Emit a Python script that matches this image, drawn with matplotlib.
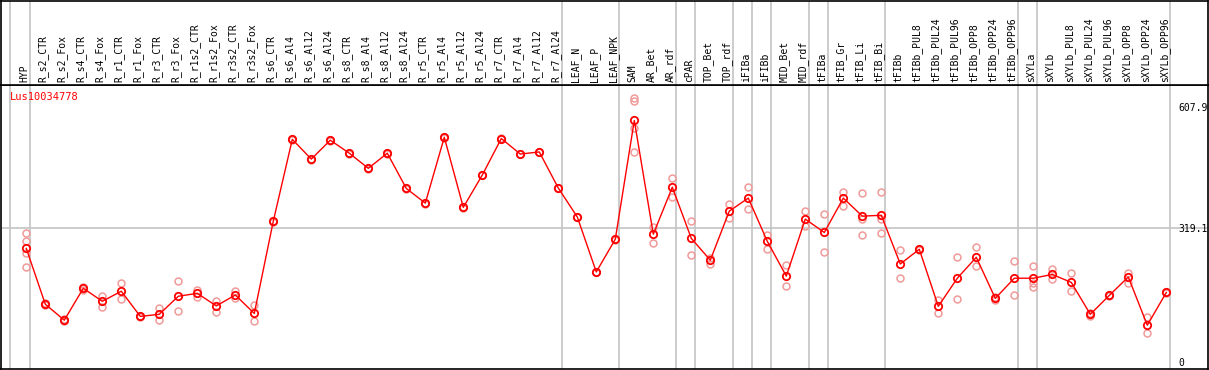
import matplotlib
matplotlib.use("Agg")
import matplotlib.pyplot as plt

samples = ["HYP", "R_s2_CTR", "R_s2_Fox", "R_s4_CTR", "R_s4_Fox", "R_r1_CTR", "R_r1_Fox",
           "R_r3_CTR", "R_r3_Fox", "R_r1s2_CTR", "R_r1s2_Fox", "R_r3s2_CTR", "R_r3s2_Fox",
           "R_s6_CTR", "R_s6_Al4", "R_s6_Al12", "R_s6_Al24", "R_s8_CTR", "R_s8_Al4",
           "R_s8_Al12", "R_s8_Al24", "R_r5_CTR", "R_r5_Al4", "R_r5_Al12", "R_r5_Al24",
           "R_r7_CTR", "R_r7_Al4", "R_r7_Al12", "R_r7_Al24", "LEAF_N", "LEAF_P", "LEAF_NPK",
           "SAM", "AR_Bet", "AR_rdf", "cPAR", "TOP_Bet", "TOP_rdf", "iFIBa", "iFIBb",
           "MID_Bet", "MID_rdf", "tFIBa", "tFIB_Gr", "tFIB_Li", "tFIB_Bi", "tFIBb",
           "tFIBb_PUL8", "tFIBb_PUL24", "tFIBb_PUL96", "tFIBb_OPP8", "tFIBb_OPP24",
           "tFIBb_OPP96", "sXYLa", "sXYLb", "sXYLb_PUL8", "sXYLb_PUL24", "sXYLb_PUL96",
           "sXYLb_OPP8", "sXYLb_OPP24", "sXYLb_OPP96"]

means = [270, 137, 99, 175, 144, 168, 108, 113, 156, 163, 133, 159, 115,
         335, 530, 483, 528, 497, 461, 497, 413, 378, 535, 368, 445,
         532, 495, 500, 414, 345, 214, 292,
         575, 304, 416, 294, 242, 359, 390, 287,
         204, 340, 308, 390, 347, 349, 233,
         268, 132, 199, 249, 151, 199, 199, 208, 189, 113, 158,
         202, 87, 165]

# replicate values (light circles)
reps = [[306, 288, 260, 226], [139, 135], [101, 97], [178, 172], [157, 131],
        [188, 149], [110, 106], [127, 99], [192, 122], [172, 155], [145, 118],
        [169, 151], [135, 96],
        [336, 333], [531, 529], [484, 482], [529, 527], [498, 496], [462, 460],
        [498, 496], [414, 412], [379, 377], [536, 534], [369, 367], [446, 444],
        [533, 531], [496, 494], [501, 499], [415, 413], [346, 344], [215, 213],
        [293, 291],
        [629, 622, 558, 499], [322, 284], [437, 393], [335, 254], [248, 234],
        [375, 342], [416, 364], [302, 269], [231, 180], [359, 323], [351, 261],
        [404, 370], [401, 339, 301], [404, 339, 306], [266, 200],
        [269, 267], [147, 117], [249, 149], [273, 227], [154, 148], [239, 158],
        [227, 187, 179], [222, 198], [211, 168], [117, 108], [160, 156],
        [211, 188], [106, 68], [167, 163]]

gene = "Lus10034778"
ymax_label, ymid_label = 607.9, 319.1
sep_after = [-1.05, 0, 28, 31, 34, 35, 37, 38, 39, 41, 42, 45, 52, 53, 60]

W, H = 1209, 370
fig = plt.figure(figsize=(W / 100, H / 100), dpi=100)
x0 = 26.3
dx = 19.0
xl = ((1 - x0) / dx, (1208 - x0) / dx)

ylo = (361.7 - 369) / 0.4195
yhi = (361.7 - 85) / 0.4195

ax = fig.add_axes([1 / W, (H - 369) / H, 1207 / W, (369 - 85) / H])
top = fig.add_axes([1 / W, (H - 85) / H, 1207 / W, 85 / H - 0.5 / H])
for a in (ax, top):
    a.set_xlim(*xl)
    a.set_xticks([]); a.set_yticks([])
    for s in a.spines.values():
        s.set_color("black"); s.set_linewidth(1.2)
ax.set_ylim(ylo, yhi)
top.set_ylim(0, 1)

mono = "DejaVu Sans Mono"
grid = "#c4c4c4"
for s in sep_after:
    xs = s + 0.21
    ax.axvline(xs, color=grid, lw=1.2, zorder=0)
    top.axvline(xs, color=grid, lw=1.2, zorder=0)
ax.axhline(ymid_label, color=grid, lw=1.2, zorder=0)

idx = list(range(len(samples)))
for i, r in enumerate(reps):
    ax.plot([i] * len(r), r, "o", ms=5, mfc="none", mec="#f09a9a", mew=1.1, zorder=2)
ax.plot(idx, means, "-", color="red", lw=1, zorder=3)
ax.plot(idx, means, "o", ms=5.3, mfc="none", mec="red", mew=1.3, zorder=4)

for i, name in enumerate(samples):
    top.text(i - 0.1, 0.03, name, rotation=90, ha="center", va="bottom",
             fontsize=7, family=mono, color="black")

ax.text(-0.85, 630, gene, color="red", fontsize=7.5, family=mono, ha="left", va="center")
xr = (1178.5 - x0) / dx
for v, lab in [(ymax_label, "607.9"), (ymid_label, "319.1"), (0, "0")]:
    ax.text(xr, v - 2, lab, fontsize=7, family=mono, ha="left", va="center")

fig.savefig("out.png", dpi=100)
